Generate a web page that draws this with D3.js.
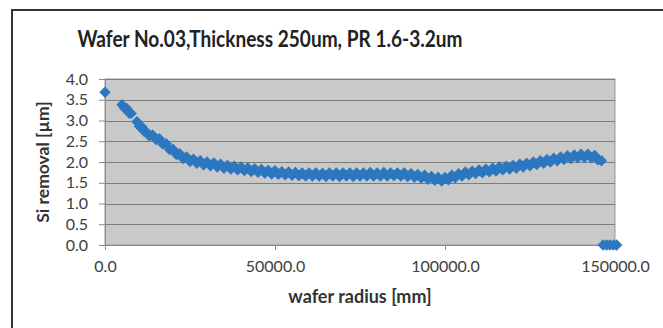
<!DOCTYPE html>
<html><head><meta charset="utf-8">
<script src="https://cdn.jsdelivr.net/npm/d3@7"></script>
<style>html,body{margin:0;padding:0;background:#fff;}svg{display:block;}</style>
</head><body>
<script>
const title = "Wafer No.03,Thickness 250um, PR 1.6-3.2um";
const xLabel = "wafer radius [mm]";
const yLabel = "Si removal [µm]";
const xTicks = [0, 50000, 100000, 150000];
const yTicks = [0, 0.5, 1.0, 1.5, 2.0, 2.5, 3.0, 3.5, 4.0];

const radius = [0,
5000,5700,6400,7100,7700,
9400,10100,10800,11500,12200,13000,14000,15000,16000,17000,18000,19000,20000,21000,22000,23000,24000,25000,26000,27000,28000,29000,30000,
31000,32000,33000,34000,35000,36000,37000,38000,39000,40000,41000,42000,43000,44000,45000,46000,47000,48000,49000,50000,
51000,52000,53000,54000,55000,56000,57000,58000,59000,60000,61000,62000,63000,64000,65000,66000,67000,68000,69000,70000,
71000,72000,73000,74000,75000,76000,77000,78000,79000,80000,81000,82000,83000,84000,85000,86000,87000,88000,89000,90000,
91000,92000,93000,94000,95000,96000,97000,98000,99000,100000,101000,102000,103000,104000,105000,106000,107000,108000,109000,110000,
111000,112000,113000,114000,115000,116000,117000,118000,119000,120000,121000,122000,123000,124000,125000,126000,127000,128000,129000,130000,
131000,132000,133000,134000,135000,136000,137000,138000,139000,140000,141000,142000,143000,144000,145000,146000,
146500,147500,148500,149500,150500];

const removal = [3.68,
3.38,3.30,3.29,3.18,3.17,
2.97,2.86,2.85,2.74,2.72,2.63,2.65,2.54,2.56,2.43,2.44,2.30,2.31,2.18,2.20,2.08,2.12,2.01,2.07,1.97,2.03,1.93,2.00,
1.91,1.98,1.88,1.95,1.85,1.92,1.83,1.90,1.81,1.88,1.79,1.86,1.77,1.84,1.75,1.82,1.73,1.80,1.71,1.79,
1.70,1.77,1.69,1.76,1.68,1.75,1.67,1.74,1.66,1.74,1.66,1.74,1.66,1.73,1.65,1.74,1.66,1.74,1.65,1.74,
1.66,1.74,1.65,1.74,1.66,1.74,1.66,1.75,1.66,1.74,1.66,1.75,1.66,1.74,1.67,1.74,1.66,1.74,1.65,1.72,
1.63,1.70,1.61,1.68,1.58,1.65,1.56,1.63,1.54,1.63,1.57,1.68,1.62,1.72,1.66,1.76,1.69,1.78,1.72,1.81,
1.74,1.83,1.76,1.85,1.78,1.88,1.81,1.90,1.83,1.92,1.85,1.95,1.88,1.97,1.91,2.00,1.94,2.03,1.97,2.06,
2.00,2.09,2.03,2.12,2.06,2.15,2.08,2.17,2.10,2.19,2.11,2.19,2.10,2.16,2.05,2.03,
0,0,0,0,0];

const W = 663, H = 328;
const plot = {left:105, right:615, top:79, bottom:245};
const svg = d3.select("body").append("svg").attr("width", W).attr("height", H);

// chart frame
svg.append("rect").attr("x", 12).attr("y", 10).attr("width", 700).attr("height", 400)
  .attr("fill", "#fff").attr("stroke", "#333").attr("stroke-width", 2);

const x = d3.scaleLinear().domain([0, 150000]).range([plot.left, plot.right]);
const y = d3.scaleLinear().domain([0, 4]).range([plot.bottom, plot.top]);

// plot background
svg.append("rect").attr("x", plot.left).attr("y", plot.top)
  .attr("width", plot.right - plot.left).attr("height", plot.bottom - plot.top)
  .attr("fill", "#c9c9c9").attr("stroke", "#9a9a9a").attr("stroke-width", 1);

// gridlines
svg.append("g").selectAll("line").data(yTicks).join("line")
  .attr("x1", plot.left).attr("x2", plot.right)
  .attr("y1", d => Math.round(y(d)) + 0.5).attr("y2", d => Math.round(y(d)) + 0.5)
  .attr("stroke", "#7d7d7d").attr("stroke-width", 1);

const tickFont = "Lato, 'Open Sans', sans-serif";
// y axis
const yAxis = svg.append("g").attr("transform", `translate(${plot.left},0)`)
  .call(d3.axisLeft(y).tickValues(yTicks).tickFormat(d3.format(".1f")).tickSize(6).tickPadding(11));
yAxis.select(".domain").attr("stroke", "#8a8a8a");
yAxis.selectAll(".tick line").attr("stroke", "#8a8a8a");
yAxis.selectAll("text").attr("font-family", tickFont).attr("font-size", 16).attr("fill", "#404040");

// x axis
const xAxis = svg.append("g").attr("transform", `translate(0,${plot.bottom})`)
  .call(d3.axisBottom(x).tickValues(xTicks).tickFormat(d3.format(".1f")).tickSize(5).tickPadding(11));
xAxis.select(".domain").attr("stroke", "#8a8a8a");
xAxis.selectAll(".tick line").attr("stroke", "#8a8a8a");
xAxis.selectAll("text").attr("font-family", tickFont).attr("font-size", 16).attr("fill", "#404040");

// markers
const sym = d3.symbol(d3.symbolSquare, 64);
svg.append("g").selectAll("path").data(radius.map((r, i) => [r, removal[i]])).join("path")
  .attr("d", sym)
  .attr("transform", d => `translate(${x(d[0])},${y(d[1])}) rotate(45)`)
  .attr("fill", "#2b78c0");

// title
svg.append("text").attr("x", 270).attr("y", 47).attr("text-anchor", "middle")
  .attr("font-family", tickFont).attr("font-size", 22).attr("font-weight", 700).attr("fill", "#222")
  .attr("textLength", 385).attr("lengthAdjust", "spacingAndGlyphs")
  .text(title);

// axis titles
svg.append("text").attr("x", (plot.left + plot.right) / 2).attr("y", 303).attr("text-anchor", "middle")
  .attr("font-family", tickFont).attr("font-size", 18).attr("font-weight", 700).attr("fill", "#333")
  .text(xLabel);
svg.append("text").attr("transform", `translate(49,${(plot.top + plot.bottom) / 2}) rotate(-90)`)
  .attr("text-anchor", "middle")
  .attr("font-family", tickFont).attr("font-size", 17.5).attr("font-weight", 700).attr("fill", "#333")
  .text(yLabel);
</script>
</body></html>
